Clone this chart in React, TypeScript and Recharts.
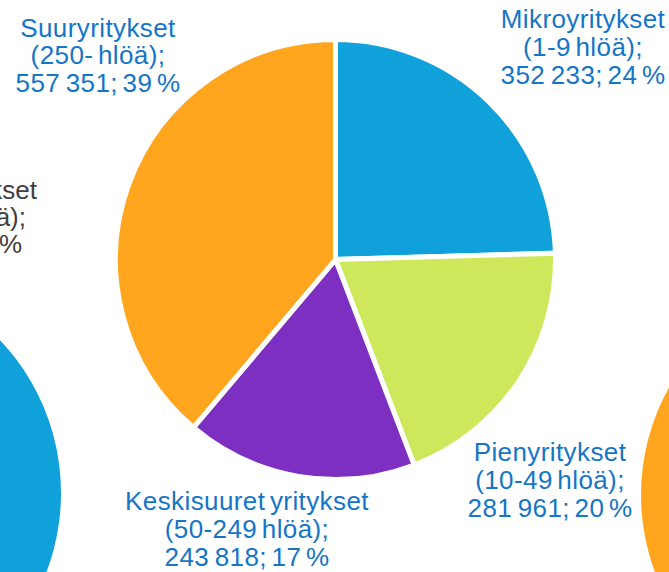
import { PieChart, Pie, Cell } from 'recharts';

const categories = ['Mikroyritykset', 'Pienyritykset', 'Keskisuuret yritykset', 'Suuryritykset'];
const sizeBands = ['(1-9 hlöä);', '(10-49 hlöä);', '(50-249 hlöä);', '(250- hlöä);'];
const counts = [352233, 281961, 243818, 557351];
const shares = [24, 20, 17, 39];
const colors = ['#10A0DA', '#CDE85A', '#7D2FC1', '#FFA51E'];

// neighbouring pies of the original slide, only partly in view
const leftNeighbour = [{ name: 'vasen', value: 1 }];
const rightNeighbour = [{ name: 'oikea', value: 1 }];
const leftNeighbourText = ['kset', 'ä);', '%'];

const TEXT_BLUE = '#1575C6';
const FONT = '"Liberation Sans", Arial, sans-serif';
const FONT_SIZE = 26;
const LINE_H = 27.8;

// label block (centre x, first baseline) relative to the pie centre
const LABEL_OFFSETS: [number, number][] = [
  [247.5, -231.5],
  [214.5, 201.5],
  [-88.5, 250.5],
  [-237.5, -223],
];

const fmt = (n: number) => String(n).replace(/\B(?=(\d{3})+(?!\d))/g, '\u2009');

const data = categories.map((name, i) => ({
  name,
  band: sizeBands[i],
  value: counts[i],
  share: shares[i],
}));

function renderLabel(props: any) {
  const { cx, cy, index } = props;
  const d = data[index];
  const [dx, dy] = LABEL_OFFSETS[index];
  const x = cx + dx;
  const y = cy + dy;
  return (
    <text
      key={d.name}
      x={x}
      y={y}
      fill={TEXT_BLUE}
      textAnchor="middle"
      fontSize={FONT_SIZE}
      fontFamily={FONT}
      style={{ wordSpacing: -3, letterSpacing: 0.4 }}
    >
      <tspan x={x} dy={0}>{d.name}</tspan>
      <tspan x={x} dy={LINE_H}>{d.band}</tspan>
      <tspan x={x} dy={LINE_H}>{`${fmt(d.value)}; ${d.share} %`}</tspan>
    </text>
  );
}

export default function App() {
  return (
    <div style={{ position: 'absolute', left: 0, top: 0, width: 669, height: 572, overflow: 'hidden', background: '#fff' }}>
      <PieChart width={669} height={572} margin={{ top: 0, right: 0, bottom: 0, left: 0 }}>
        <Pie
          data={leftNeighbour}
          dataKey="value"
          cx={-161}
          cy={493}
          outerRadius={222}
          stroke="none"
          isAnimationActive={false}
        >
          <Cell fill={colors[0]} />
        </Pie>
        <Pie
          data={rightNeighbour}
          dataKey="value"
          cx={861}
          cy={495}
          outerRadius={220}
          stroke="none"
          isAnimationActive={false}
        >
          <Cell fill={colors[3]} />
        </Pie>
        <Pie
          data={data}
          dataKey="value"
          cx={335.5}
          cy={259.5}
          outerRadius={220}
          startAngle={90}
          endAngle={-270}
          stroke="#fff"
          strokeWidth={5}
          label={renderLabel}
          labelLine={false}
          isAnimationActive={false}
        >
          {data.map((d, i) => (
            <Cell key={d.name} fill={colors[i]} />
          ))}
        </Pie>
        <text fill="#404040" fontSize={FONT_SIZE} fontFamily={FONT} textAnchor="end">
          <tspan x={37} y={199}>{leftNeighbourText[0]}</tspan>
          <tspan x={26} y={226}>{leftNeighbourText[1]}</tspan>
          <tspan x={22} y={253}>{leftNeighbourText[2]}</tspan>
        </text>
      </PieChart>
    </div>
  );
}
